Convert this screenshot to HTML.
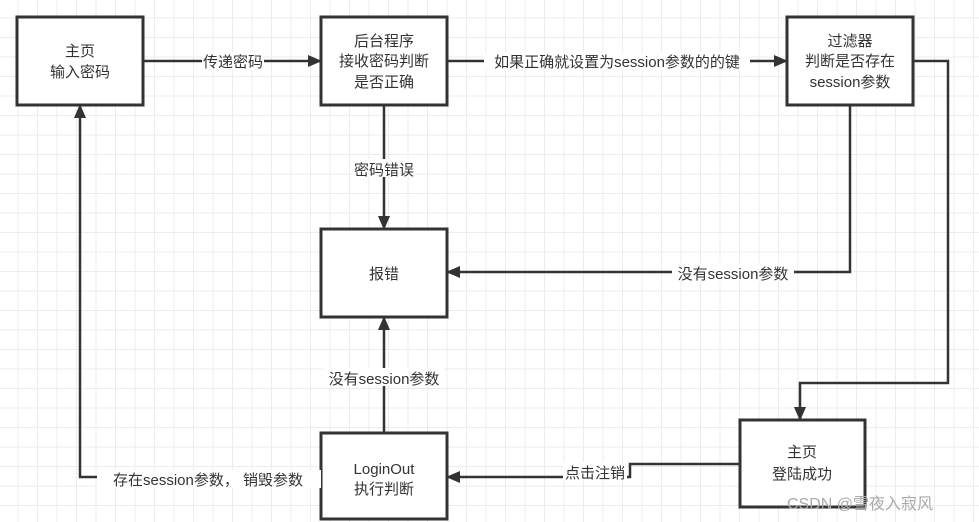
<!DOCTYPE html>
<html><head><meta charset="utf-8"><style>
body{margin:0;width:979px;height:522px;overflow:hidden;background:#fff;
background-image:linear-gradient(#ececec 1px,transparent 1px),linear-gradient(90deg,#ececec 1px,transparent 1px);
background-size:19.5px 19.5px;background-position:-2px -2px;font-family:"Liberation Sans","Noto Sans CJK SC",sans-serif;}
svg{position:absolute;left:0;top:0}
.b{fill:#fff;stroke:#333;stroke-width:3}
text{font-family:"Liberation Sans","Noto Sans CJK SC",sans-serif;font-size:15px;fill:#333;text-anchor:middle}
.l{stroke:#333;stroke-width:2.5;fill:none}
.lb{fill:#fff}
</style></head><body>
<svg width="979" height="522">
<defs>
<marker id="a2" markerWidth="14" markerHeight="14" refX="13" refY="7" orient="auto" markerUnits="userSpaceOnUse"><path d="M0,1L14,7L0,13z" fill="#333"/></marker></defs>
<rect class="b" x="17" y="17" width="126" height="88"/>
<rect class="b" x="321" y="17" width="126" height="88"/>
<rect class="b" x="787" y="17" width="126" height="88"/>
<rect class="b" x="321" y="229" width="126" height="88"/>
<rect class="b" x="321" y="433" width="126" height="86"/>
<rect class="b" x="740" y="420" width="125" height="87"/>
<g class="l">
<path d="M143,61H321" marker-end="url(#a2)"/>
<path d="M447,61H787" marker-end="url(#a2)"/>
<path d="M913,61H948V383H800V420" marker-end="url(#a2)"/>
<path d="M850,105V272H447" marker-end="url(#a2)"/>
<path d="M384,105V229" marker-end="url(#a2)"/>
<path d="M384,433V317" marker-end="url(#a2)"/>
<path d="M740,464H630V477H447" marker-end="url(#a2)"/>
<path d="M321,477H80V105" marker-end="url(#a2)"/>
</g>
<rect class="lb" x="202" y="52" width="62" height="18"/><text x="233" y="67">传递密码</text>
<rect class="lb" x="484" y="52" width="266" height="18"/><text x="617" y="67">如果正确就设置为session参数的的键</text>
<rect class="lb" x="672" y="263" width="122" height="18"/><text x="733" y="279">没有session参数</text>
<rect class="lb" x="353" y="159" width="62" height="18"/><text x="384" y="175">密码错误</text>
<rect class="lb" x="324" y="368" width="120" height="18"/><text x="384" y="384">没有session参数</text>
<rect class="lb" x="563" y="462" width="64" height="18"/><text x="595" y="478">点击注销</text>
<rect class="lb" x="97" y="470" width="224" height="18"/><text x="208" y="485">存在session参数， 销毁参数</text>
<text x="80" y="56">主页</text><text x="80" y="77">输入密码</text>
<text x="384" y="46">后台程序</text><text x="384" y="66">接收密码判断</text><text x="384" y="87">是否正确</text>
<text x="850" y="46">过滤器</text><text x="850" y="66">判断是否存在</text><text x="850" y="87">session参数</text>
<text x="384" y="279">报错</text>
<text x="384" y="474">LoginOut</text><text x="384" y="494">执行判断</text>
<text x="802" y="457">主页</text><text x="802" y="479">登陆成功</text>
<text x="860" y="509" style="font-size:16px;fill:#aaa">CSDN @雪夜入寂风</text>
</svg>
</body></html>
